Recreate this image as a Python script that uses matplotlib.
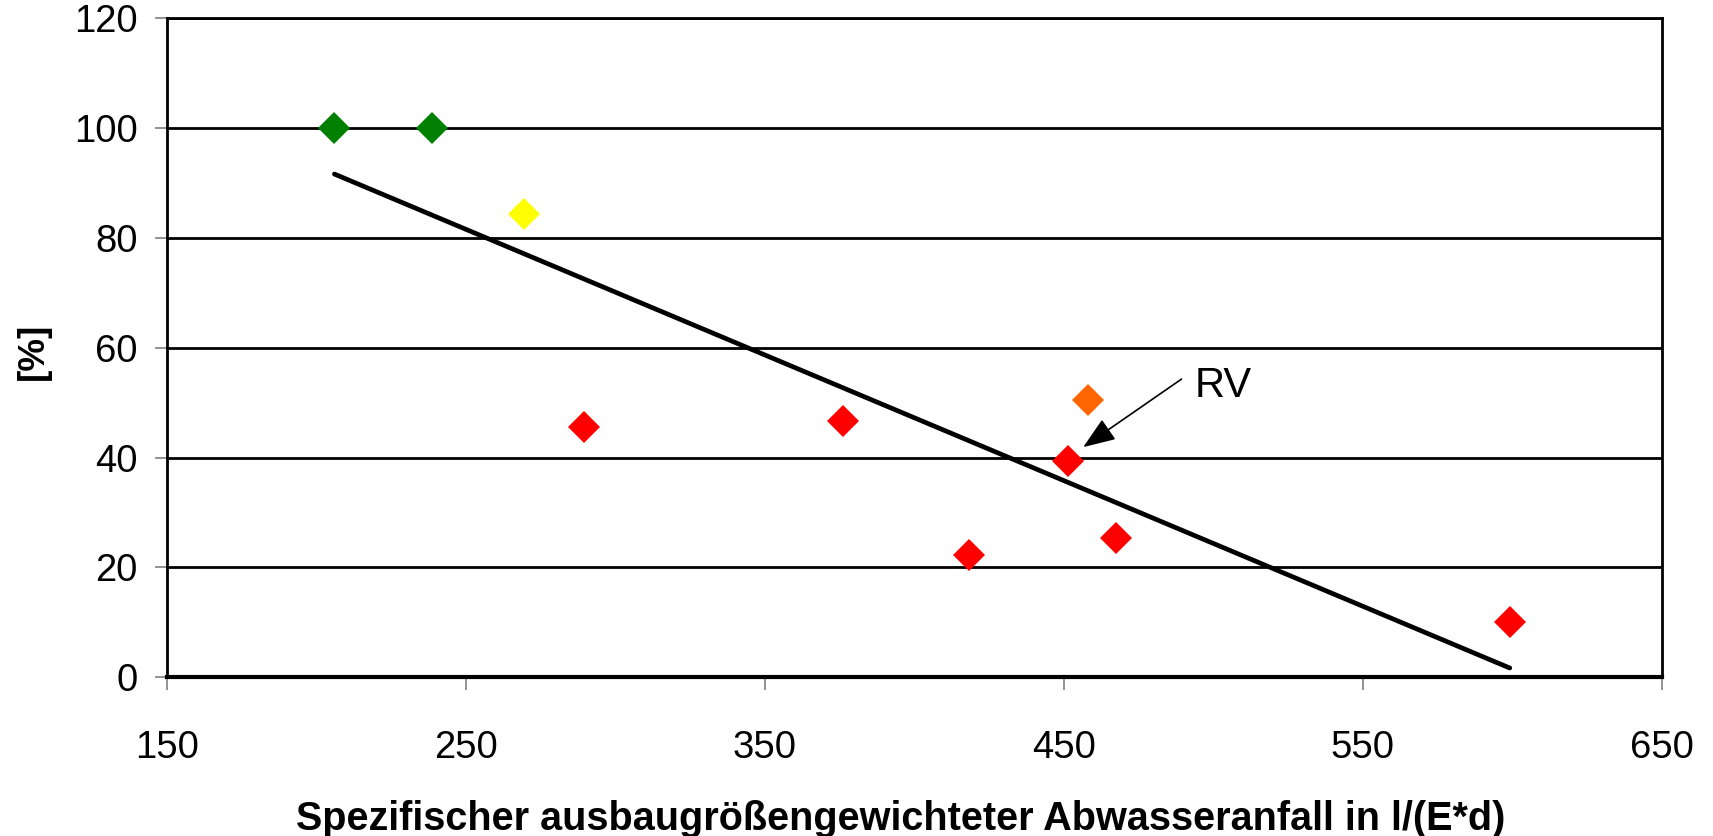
import numpy as np
import matplotlib
matplotlib.use("Agg")
import matplotlib.pyplot as plt

plt.rcParams['font.family'] = ['Liberation Sans', 'DejaVu Sans']

# Data
x_vals = [206, 238.5, 269.5, 289.6, 376.2, 418.3, 451.5, 458.1, 467.6, 599.2]
y_vals = [100, 100, 84.4, 45.6, 46.6, 22.3, 39.4, 50.5, 25.3, 10.0]
colors = ['#008000', '#008000', '#FFFF00', '#FF0000', '#FF0000', '#FF0000',
          '#FF0000', '#FF6600', '#FF0000', '#FF0000']
x_ticks = [150, 250, 350, 450, 550, 650]
y_ticks = [0, 20, 40, 60, 80, 100, 120]
x_label = 'Spezifischer ausbaugrößengewichteter Abwasseranfall in l/(E*d)'
y_label = '[%]'
rv_label = 'RV'
rv_arrow_head = (456.5, 41.9)
rv_arrow_tail = (489.4, 54.3)
rv_text_pos = (493.8, 53.1)

fig = plt.figure(figsize=(17.13, 8.36), dpi=100)
ax = fig.add_axes([0.0975, 0.190, 0.8725, 0.788])

ax.set_xlim(150, 650)
ax.set_ylim(0, 120)
ax.set_xticks(x_ticks)
ax.set_yticks(y_ticks)
ax.yaxis.grid(True, color='black', linewidth=2)
ax.set_axisbelow(True)

for s in ax.spines.values():
    s.set_color('black')
    s.set_linewidth(2)
ax.spines['bottom'].set_linewidth(3)

ax.tick_params(axis='both', direction='out', length=9, width=1.2, labelsize=27.5, color='#808080')
ax.tick_params(axis='x', pad=29)
ax.tick_params(axis='y', pad=12)

# regression line over data range
coef = np.polyfit(x_vals, y_vals, 1)
xr = np.array([min(x_vals), max(x_vals)])
ax.plot(xr, np.polyval(coef, xr), color='black', linewidth=3.4, zorder=3, solid_capstyle='round')

for x, y, c in zip(x_vals, y_vals, colors):
    ax.plot(x, y, marker='D', markersize=16.5, color=c, markeredgewidth=0, linestyle='none', zorder=4)

ax.annotate('', xy=rv_arrow_head, xytext=rv_arrow_tail,
            arrowprops=dict(arrowstyle='-|>,head_length=1.0,head_width=0.38', color='black',
                            lw=1.2, mutation_scale=20, shrinkA=0, shrinkB=0))
ax.text(rv_text_pos[0], rv_text_pos[1], rv_label, fontsize=30, va='center', ha='left')

ax.set_xlabel(x_label, fontsize=28.5, fontweight='bold', va='baseline')
ax.xaxis.set_label_coords(0.491, -0.2324)
ax.set_ylabel(y_label, fontsize=26.5, fontweight='bold', va='center')
ax.yaxis.set_label_coords(-0.0896, 0.495)

fig.savefig('out.png', dpi=100)
